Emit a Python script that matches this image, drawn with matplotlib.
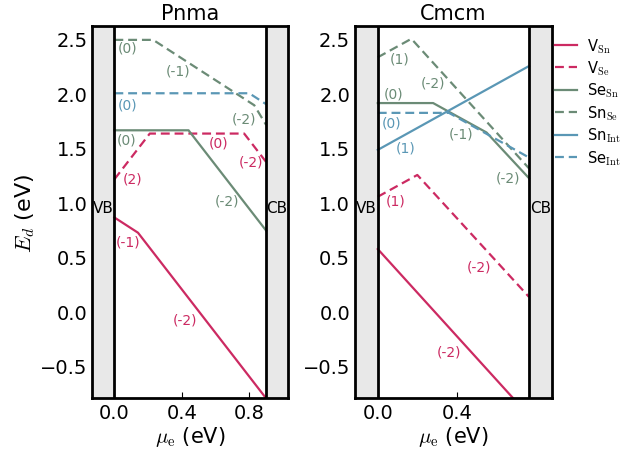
import matplotlib
matplotlib.use("Agg")
import matplotlib.pyplot as plt

plt.rcParams["mathtext.fontset"] = "cm"
plt.rcParams["font.family"] = "DejaVu Sans"

RED = "#cc2a62"
GREEN = "#6b8b76"
BLUE = "#5a97b5"
BAND = "#e8e8e8"

# ---- Pnma (gap 0.9 eV) ----
pnma_gap = 0.9
pnma_vsn_x = [0.0, 0.14, 0.9]
pnma_vsn_y = [0.86, 0.72, -0.80]
pnma_vse_x = [0.0, 0.21, 0.77, 0.9]
pnma_vse_y = [1.21, 1.63, 1.63, 1.37]
pnma_sesn_x = [0.0, 0.44, 0.9]
pnma_sesn_y = [1.66, 1.66, 0.74]
pnma_snse_x = [0.0, 0.23, 0.83, 0.9]
pnma_snse_y = [2.49, 2.49, 1.89, 1.71]
pnma_snint_x = []
pnma_snint_y = []
pnma_seint_x = [0.0, 0.80, 0.9]
pnma_seint_y = [2.0, 2.0, 1.90]

# ---- Cmcm (gap 0.765 eV) ----
cmcm_gap = 0.765
cmcm_vsn_x = [0.0, 0.765]
cmcm_vsn_y = [0.57, -0.96]
cmcm_vse_x = [0.0, 0.20, 0.765]
cmcm_vse_y = [1.05, 1.25, 0.13]
cmcm_sesn_x = [0.0, 0.28, 0.55, 0.765]
cmcm_sesn_y = [1.91, 1.91, 1.64, 1.22]
cmcm_snse_x = [0.0, 0.17, 0.765]
cmcm_snse_y = [2.33, 2.50, 1.31]
cmcm_snint_x = [0.0, 0.765]
cmcm_snint_y = [1.48, 2.25]
cmcm_seint_x = [0.0, 0.36, 0.765]
cmcm_seint_y = [1.82, 1.82, 1.41]

# charge-state labels: (x, y, text, colour)
pnma_labels = [
    (0.08, 2.42, "(0)", GREEN), (0.38, 2.21, "(-1)", GREEN),
    (0.08, 1.90, "(0)", BLUE), (0.77, 1.77, "(-2)", GREEN),
    (0.07, 1.58, "(0)", GREEN), (0.62, 1.55, "(0)", RED),
    (0.81, 1.37, "(-2)", RED), (0.11, 1.22, "(2)", RED),
    (0.67, 1.02, "(-2)", GREEN), (0.08, 0.64, "(-1)", RED),
    (0.42, -0.08, "(-2)", RED),
]
cmcm_labels = [
    (0.11, 2.32, "(1)", GREEN), (0.28, 2.10, "(-2)", GREEN),
    (0.08, 2.00, "(0)", GREEN), (0.07, 1.73, "(0)", BLUE),
    (0.14, 1.50, "(1)", BLUE), (0.42, 1.63, "(-1)", GREEN),
    (0.66, 1.23, "(-2)", GREEN), (0.09, 1.02, "(1)", RED),
    (0.51, 0.41, "(-2)", RED), (0.36, -0.37, "(-2)", RED),
]

series = [
    ("vsn", RED, "-", r"V$_{\rm Sn}$"),
    ("vse", RED, "--", r"V$_{\rm Se}$"),
    ("sesn", GREEN, "-", r"Se$_{\rm Sn}$"),
    ("snse", GREEN, "--", r"Sn$_{\rm Se}$"),
    ("snint", BLUE, "-", r"Sn$_{\rm Int}$"),
    ("seint", BLUE, "--", r"Se$_{\rm Int}$"),
]

panels = [
    ("Pnma", pnma_gap, 0.13, 0.13, {
        "vsn": (pnma_vsn_x, pnma_vsn_y), "vse": (pnma_vse_x, pnma_vse_y),
        "sesn": (pnma_sesn_x, pnma_sesn_y), "snse": (pnma_snse_x, pnma_snse_y),
        "snint": (pnma_snint_x, pnma_snint_y), "seint": (pnma_seint_x, pnma_seint_y),
    }, pnma_labels),
    ("Cmcm", cmcm_gap, 0.115, 0.116, {
        "vsn": (cmcm_vsn_x, cmcm_vsn_y), "vse": (cmcm_vse_x, cmcm_vse_y),
        "sesn": (cmcm_sesn_x, cmcm_sesn_y), "snse": (cmcm_snse_x, cmcm_snse_y),
        "snint": (cmcm_snint_x, cmcm_snint_y), "seint": (cmcm_seint_x, cmcm_seint_y),
    }, cmcm_labels),
]

fig = plt.figure(figsize=(6.36, 4.52), dpi=100)
rects = [[0.1454, 0.1166, 0.3074, 0.8243], [0.5582, 0.1166, 0.3097, 0.8243]]

for i, (name, gap, lpad, rpad, data, labels) in enumerate(panels):
    ax = fig.add_axes(rects[i])
    xmin, xmax = -lpad, gap + rpad
    ax.axvspan(xmin, 0, color=BAND, zorder=0)
    ax.axvspan(gap, xmax, color=BAND, zorder=0)
    ax.axvline(0, color="black", lw=2, zorder=3)
    ax.axvline(gap, color="black", lw=2, zorder=3)

    for key, col, ls, lab in series:
        xs, ys = data[key]
        ax.plot(xs, ys, color=col, ls=ls, lw=1.6, label=lab, dashes=(4, 2.2) if ls == "--" else (None, None))

    for x, y, t, c in labels:
        ax.text(x, y, t, color=c, fontsize=10, ha="center", va="center")

    ax.text(-lpad / 2, 0.955, "VB", fontsize=11, ha="center", va="center")
    ax.text(gap + rpad / 2, 0.955, "CB", fontsize=11, ha="center", va="center")

    ax.set_xlim(xmin, xmax)
    ax.set_ylim(-0.8, 2.62)
    ax.set_xticks([0.0, 0.4, 0.8] if gap > 0.8 else [0.0, 0.4])
    ax.set_yticks([-0.5, 0.0, 0.5, 1.0, 1.5, 2.0, 2.5])
    ax.tick_params(axis="x", direction="in", length=4, labelsize=14, top=False)
    ax.tick_params(axis="y", length=0, labelsize=14)
    for sp in ax.spines.values():
        sp.set_linewidth(2)
    ax.set_title(name, fontsize=15, pad=4.5)
    ax.set_xlabel(r"$\mu_{\rm e}$ (eV)", fontsize=15, labelpad=1)
    if i == 0:
        ax.set_ylabel(r"$E_d$ (eV)", fontsize=16, labelpad=2)
    else:
        ax.legend(loc="upper left", bbox_to_anchor=(1.0, 0.98), frameon=False,
                  fontsize=10.5, handlelength=1.5, borderaxespad=0, borderpad=0.2,
                  labelspacing=0.27, handletextpad=0.7)

fig.savefig("out.png", dpi=100)
